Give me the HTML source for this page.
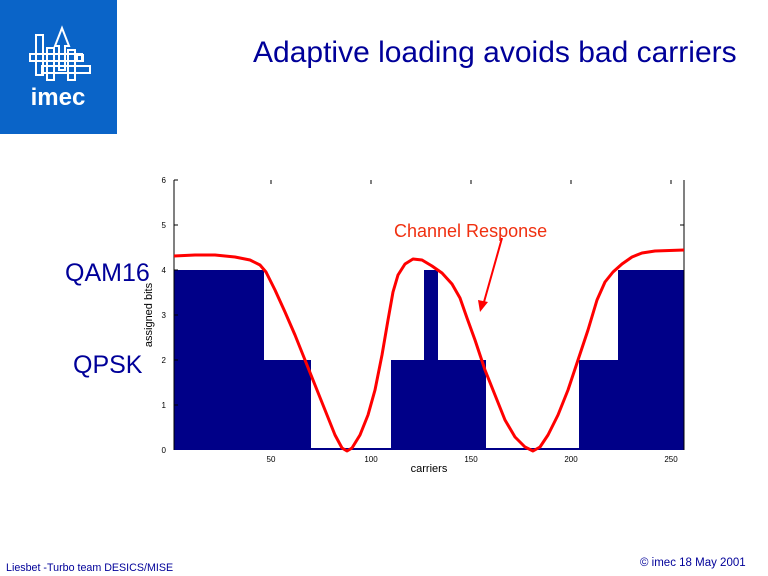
<!DOCTYPE html>
<html><head><style>
body{margin:0;width:768px;height:576px;background:#fff;position:relative;overflow:hidden;font-family:"Liberation Sans",sans-serif}
.t{position:absolute;white-space:nowrap}
</style></head><body>
<div style="position:absolute;left:0;top:0;width:117px;height:134px;background:#0a64c8"></div>
<svg style="position:absolute;left:0;top:0" width="117" height="134">
<g fill="none" stroke="#fff" stroke-width="2">
<polygon points="55,46 62,28 69,46 65,46 65,70 59,70 59,46"/>
<rect x="36" y="35" width="7" height="40"/>
<rect x="30" y="54" width="52" height="7"/>
<rect x="42" y="66" width="48" height="7"/>
<rect x="68" y="50" width="7" height="30"/>
<rect x="47" y="48" width="7" height="32"/>
<rect x="77" y="55" width="6" height="6"/>
</g>
<text x="58" y="105" text-anchor="middle" font-family="Liberation Sans" font-weight="bold" font-size="24" fill="#fff">imec</text>
</svg>
<div class="t" style="left:253px;top:36px;font-size:30px;color:#000099">Adaptive loading avoids bad carriers</div>
<svg style="position:absolute;left:0;top:0" width="768" height="576">
<g fill="#000088">
<rect x="174" y="270" width="90" height="180"/>
<rect x="264" y="360" width="47" height="90"/>
<rect x="391" y="360" width="33" height="90"/>
<rect x="424" y="270" width="14" height="180"/>
<rect x="438" y="360" width="48" height="90"/>
<rect x="579" y="360" width="39" height="90"/>
<rect x="618" y="270" width="66" height="180"/>
<rect x="174" y="448" width="510" height="2"/>
</g>
<g stroke="#000" stroke-width="1">
<line x1="174" y1="180" x2="174" y2="450"/>
<line x1="684" y1="180" x2="684" y2="450"/>
<line x1="174" y1="180" x2="178" y2="180"/><line x1="174" y1="225" x2="178" y2="225"/><line x1="174" y1="270" x2="178" y2="270"/><line x1="174" y1="315" x2="178" y2="315"/><line x1="174" y1="360" x2="178" y2="360"/><line x1="174" y1="405" x2="178" y2="405"/>
<line x1="680" y1="225" x2="684" y2="225"/>
<line x1="271" y1="180" x2="271" y2="184"/><line x1="371" y1="180" x2="371" y2="184"/><line x1="471" y1="180" x2="471" y2="184"/><line x1="571" y1="180" x2="571" y2="184"/><line x1="671" y1="180" x2="671" y2="184"/>
</g>
<g font-size="8" fill="#000" font-family="Liberation Sans">
<text x="166" y="183" text-anchor="end">6</text><text x="166" y="228" text-anchor="end">5</text><text x="166" y="273" text-anchor="end">4</text><text x="166" y="318" text-anchor="end">3</text><text x="166" y="363" text-anchor="end">2</text><text x="166" y="408" text-anchor="end">1</text><text x="166" y="453" text-anchor="end">0</text>
<text x="271" y="462" text-anchor="middle">50</text><text x="371" y="462" text-anchor="middle">100</text><text x="471" y="462" text-anchor="middle">150</text><text x="571" y="462" text-anchor="middle">200</text><text x="671" y="462" text-anchor="middle">250</text>
<text x="429" y="472" text-anchor="middle" font-size="11">carriers</text>
<text transform="translate(152,315) rotate(-90)" text-anchor="middle" font-size="11">assigned bits</text>
</g>
<polyline points="174,256 195,255 215,255 235,257 250,260 260,265 266,272 275,290 285,312 295,335 305,360 315,385 325,410 335,435 342,448 347,451 352,448 360,435 368,415 375,390 382,355 388,320 393,292 398,275 405,264 413,259 422,260 432,266 442,273 452,284 460,298 467,318 475,340 485,370 495,395 505,420 515,437 525,447 533,451 540,447 548,435 558,415 568,390 578,360 588,330 597,300 605,282 613,272 622,264 632,257 642,253 655,251 684,250" fill="none" stroke="#f00" stroke-width="3" stroke-linejoin="round"/>
<line x1="502" y1="238" x2="484" y2="302" stroke="#f00" stroke-width="2"/>
<polygon points="480,312 478,300 488,302" fill="#f00"/>
<text x="394" y="237" font-family="Liberation Sans" font-size="18" fill="#f03010">Channel Response</text>
</svg>
<div class="t" style="left:65px;top:259px;font-size:25px;color:#000099">QAM16</div>
<div class="t" style="left:73px;top:351px;font-size:25px;color:#000099">QPSK</div>
<div class="t" style="left:6px;top:562px;font-size:10.7px;color:#000099">Liesbet -Turbo team DESICS/MISE</div>
<div class="t" style="left:640px;top:557px;font-size:11.5px;color:#000099">© imec 18 May 2001</div>
</body></html>
